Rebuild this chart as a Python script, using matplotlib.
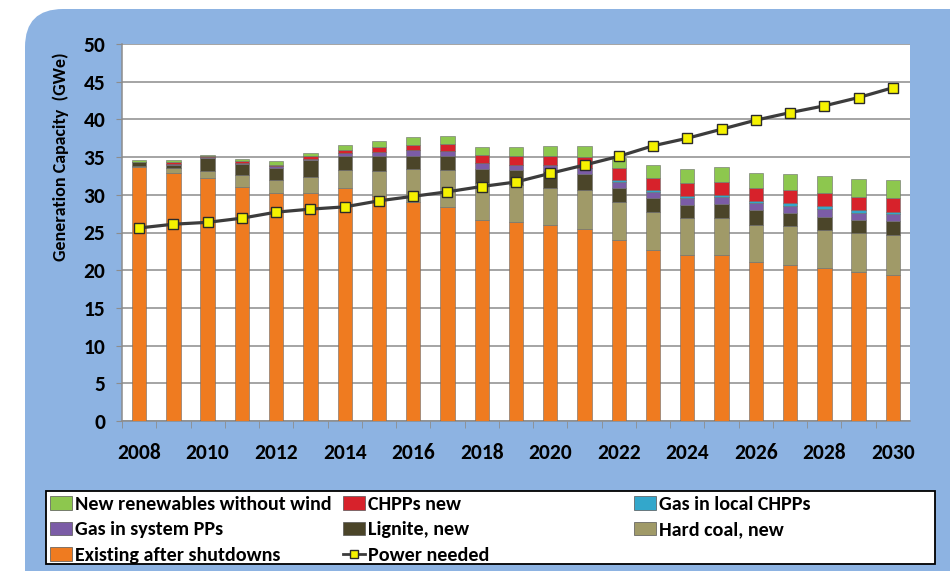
#importing the packages
import matplotlib.pyplot as plt
from matplotlib.patches import FancyBboxPatch, Rectangle, Patch
from matplotlib.lines import Line2D

plt.rcParams['font.family'] = ['Carlito', 'Lato', 'DejaVu Sans']
plt.rcParams['font.weight'] = 'bold'

#data (GWe)
years = list(range(2008, 2031))
existing = [33.7, 32.9, 32.2, 31.1, 30.2, 30.2, 30.9, 29.8, 29.1, 28.4, 26.7, 26.4,
            26.0, 25.5, 24.0, 22.7, 22.0, 22.0, 21.1, 20.7, 20.3, 19.8, 19.4]
hard_coal = [0.1, 0.6, 1.0, 1.55, 1.8, 2.2, 2.4, 3.3, 4.3, 4.9, 4.9, 4.9,
             4.9, 5.2, 5.1, 5.0, 4.9, 4.95, 4.95, 5.1, 5.0, 5.2, 5.3]
lignite = [0.5, 0.5, 1.7, 1.4, 1.6, 2.2, 1.8, 2.0, 1.8, 1.8, 1.8, 2.0,
           2.2, 2.0, 1.8, 1.85, 1.8, 1.8, 1.9, 1.75, 1.8, 1.65, 1.8]
gas_system = [0.05, 0.15, 0.1, 0.2, 0.2, 0.1, 0.4, 0.6, 0.7, 0.7, 0.8, 0.6,
              0.8, 0.8, 0.8, 0.8, 0.9, 0.9, 0.9, 1.0, 1.0, 0.95, 0.9]
gas_local = [0, 0, 0, 0, 0, 0, 0, 0, 0, 0, 0, 0,
             0, 0, 0.3, 0.3, 0.3, 0.35, 0.35, 0.4, 0.35, 0.35, 0.35]
chpp_new = [0.05, 0.2, 0.1, 0.2, 0.2, 0.4, 0.5, 0.6, 0.75, 1.0, 1.1, 1.3,
            1.3, 1.5, 1.55, 1.55, 1.6, 1.75, 1.65, 1.75, 1.8, 1.8, 1.85]
renewables = [0.2, 0.2, 0.2, 0.35, 0.5, 0.5, 0.6, 0.9, 1.0, 1.0, 1.1, 1.1,
              1.3, 1.45, 1.3, 1.7, 1.9, 1.9, 2.1, 2.0, 2.2, 2.3, 2.35]
power_needed = [25.6, 26.1, 26.35, 26.9, 27.7, 28.1, 28.4, 29.2, 29.8, 30.4, 31.1, 31.7,
                32.85, 33.95, 35.1, 36.5, 37.5, 38.7, 39.9, 40.9, 41.8, 42.9, 44.2]

series = [
    ("Existing after shutdowns", existing, "#EF7B20"),
    ("Hard coal, new", hard_coal, "#A09A68"),
    ("Lignite, new", lignite, "#4B4529"),
    ("Gas in system PPs", gas_system, "#7B5CA6"),
    ("Gas in local CHPPs", gas_local, "#33A7CB"),
    ("CHPPs new", chpp_new, "#D7222B"),
    ("New renewables without wind", renewables, "#8DC74E"),
]

fig = plt.figure(figsize=(9.5, 5.71), dpi=100)

#blue rounded background panel, drawn in pixel units
bg = fig.add_axes([0, 0, 1, 1], zorder=-10)
bg.set_xlim(0, 950)
bg.set_ylim(571, 0)
bg.axis("off")
bg.add_patch(FancyBboxPatch((25, 9), 1000, 700, boxstyle="round,pad=0,rounding_size=38",
                            facecolor="#8DB3E2", edgecolor="none"))
#legend frame
bg.add_patch(Rectangle((46, 491), 889, 73, facecolor="white", edgecolor="black", lw=1.3))

ax = fig.add_axes([122/950, 1-421/571, (910-122)/950, (421-44)/571])
ax.set_facecolor("white")

bottom = [0.0] * len(years)
handles = {}
for name, vals, col in series:
    ax.bar(years, vals, width=0.42, bottom=bottom, color=col, edgecolor="#6b6b6b",
           linewidth=0.4, zorder=3)
    handles[name] = Patch(facecolor=col, edgecolor="#555555", linewidth=0.5)
    bottom = [b + v for b, v in zip(bottom, vals)]

ax.plot(years, power_needed, color="#3C3C3C", lw=2.3, marker="s", ms=6.5,
        mfc="#F5F200", mec="#2a2a2a", mew=1.0, zorder=5)

ax.set_xlim(2007.5, 2030.5)
ax.set_ylim(0, 50)
ax.set_yticks(range(0, 51, 5))
ax.yaxis.grid(True, color="#8c8c8c", lw=1.1, zorder=0)
ax.set_axisbelow(True)
ax.set_xticks(years[::2])
ax.set_xticks([y + 0.5 for y in years[:-1]] + [2007.5], minor=True)
ax.tick_params(axis="x", which="major", length=0, pad=16, labelsize=15.5)
ax.tick_params(axis="x", which="minor", length=5, color="#8c8c8c")
ax.tick_params(axis="y", length=4, color="#8c8c8c", pad=8, labelsize=15.5)
for s in ["top", "right"]:
    ax.spines[s].set_visible(False)
for s in ["left", "bottom"]:
    ax.spines[s].set_color("#8c8c8c")
    ax.spines[s].set_linewidth(1.1)

ax.set_ylabel("Generation Capacity  (GWe)", fontsize=13, fontweight="bold")
ax.yaxis.set_label_coords(-0.067, 0.70)

#legend in three columns, rows read left to right
power_handle = Line2D([], [], color="#3C3C3C", lw=2, marker="s", ms=6,
                      mfc="#F5F200", mec="#2a2a2a")
columns = [
    (47, ["New renewables without wind", "Gas in system PPs", "Existing after shutdowns"]),
    (340, ["CHPPs new", "Lignite, new", "Power needed"]),
    (631, ["Gas in local CHPPs", "Hard coal, new"]),
]
for x0, names in columns:
    hs = [power_handle if n == "Power needed" else handles[n] for n in names]
    fig.legend(hs, names, loc="upper left", bbox_to_anchor=(x0/950, 1-493/571),
               frameon=False, handlelength=1.1, handleheight=0.65,
               handletextpad=0.15, labelspacing=0.42, borderaxespad=0, borderpad=0.15,
               prop={"weight": "bold", "size": 14.5})

fig.savefig("out.png", dpi=100)
